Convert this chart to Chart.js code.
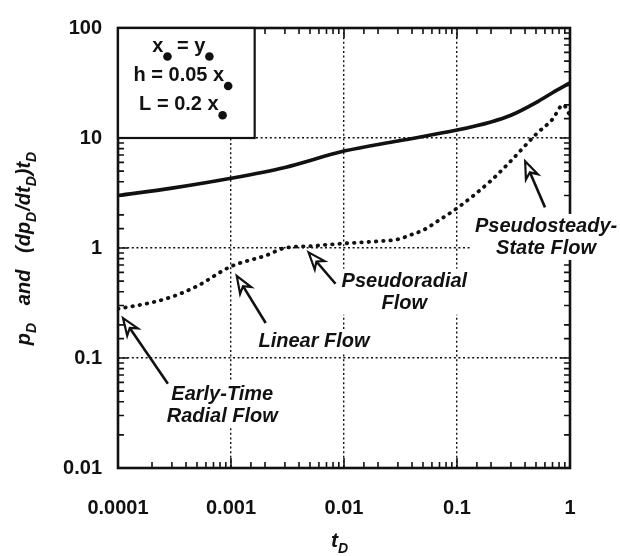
<!DOCTYPE html>
<html>
<head>
<meta charset="utf-8">
<script src="https://cdn.jsdelivr.net/npm/chart.js@4.4.1/dist/chart.umd.min.js"></script>
<style>
  html, body { margin: 0; padding: 0; background: #fff; }
</style>
</head>
<body>
<canvas id="chart" width="620" height="556"></canvas>
<script>
// p_D curve (solid)
const tdSolid = [0.0001, 0.0003, 0.001, 0.003, 0.01, 0.03, 0.1, 0.2, 0.3, 0.5, 0.7, 1];
const pD = [3.0, 3.5, 4.3, 5.4, 7.6, 9.4, 11.8, 14, 16.1, 21, 25.8, 31.7];

// derivative curve (dotted)
const tdDotted = [0.0001, 0.0002, 0.0003, 0.0005, 0.001, 0.002, 0.003, 0.005, 0.01, 0.02, 0.03, 0.04, 0.05, 0.07, 0.1, 0.2, 0.3, 0.5, 0.7, 0.87, 1];
const pDderiv = [0.28, 0.32, 0.36, 0.45, 0.68, 0.85, 1.0, 1.04, 1.1, 1.15, 1.2, 1.33, 1.45, 1.8, 2.3, 4.1, 6.2, 10.8, 14.8, 20, 16];

const xTickLabels = ['0.0001', '0.001', '0.01', '0.1', '1'];
const yTickLabels = ['0.01', '0.1', '1', '10', '100'];

// flow regime labels: text centre / first baseline, arrow tip and tail (data units)
const flowLabels = [
  { lines: ['Early-Time', 'Radial Flow'], at: [0.000837, 0.0416], tip: [0.0001107, 0.2307], tail: [0.0002764, 0.0583] },
  { lines: ['Linear Flow'], at: [0.00543, 0.1247], tip: [0.001124, 0.557], tail: [0.002028, 0.208] },
  { lines: ['Pseudoradial', 'Flow'], at: [0.0342, 0.445], tip: [0.00486, 0.912], tail: [0.00841, 0.473] },
  { lines: ['Pseudosteady-', 'State Flow'], at: [0.614, 1.40], tip: [0.401, 6.14], tail: [0.601, 2.34] }
];

// parameter box
const paramBox = { x: [0.0001, 0.00162], y: [10, 100] };
const paramRows = [
  { parts: ['x', {dot: 1}, ' = y', {dot: 1}], at: [0.000375, 61.1] },
  { parts: ['h = 0.05 x', {dot: 1}], at: [0.000375, 33.0] },
  { parts: ['L = 0.2 x', {dot: 1}], at: [0.000375, 17.9] }
];

const FONT = '"Liberation Sans", Arial, sans-serif';

function isPow10(v) {
  const l = Math.log10(v);
  return Math.abs(l - Math.round(l)) < 1e-6;
}

// draws text parts: strings, {sub:'D'} subscripts, {dot:1} subscript dots
function drawRich(ctx, parts, x, y, size, style) {
  const mainF = style + ' ' + size + 'px ' + FONT;
  const subF = style + ' ' + Math.round(size * 0.68) + 'px ' + FONT;
  const items = [];
  let w = 0;
  parts.forEach(p => {
    if (typeof p === 'string') {
      ctx.font = mainF;
      const m = ctx.measureText(p).width;
      items.push({ t: p, f: mainF, w: m, dy: 0 });
      w += m;
    } else if (p.sub) {
      ctx.font = subF;
      const m = ctx.measureText(p.sub).width + 1;
      items.push({ t: p.sub, f: subF, w: m, dy: size * 0.3 });
      w += m;
    } else if (p.dot) {
      items.push({ dot: true, w: 8 });
      w += 8;
    }
  });
  let cx = x - w / 2;
  ctx.textBaseline = 'alphabetic';
  ctx.textAlign = 'left';
  items.forEach(it => {
    if (it.dot) {
      ctx.beginPath();
      ctx.arc(cx + 4, y + 5, 4.3, 0, Math.PI * 2);
      ctx.fill();
    } else {
      ctx.font = it.f;
      ctx.fillText(it.t, cx, y + it.dy);
    }
    cx += it.w;
  });
  return w;
}

function arrow(ctx, x1, y1, x2, y2) {
  const ang = Math.atan2(y2 - y1, x2 - x1);
  const len = 17, half = 6.5;
  const bx = x2 - Math.cos(ang) * len, by = y2 - Math.sin(ang) * len;
  ctx.lineWidth = 2.6;
  ctx.beginPath();
  ctx.moveTo(x1, y1);
  ctx.lineTo(bx + Math.cos(ang) * 5, by + Math.sin(ang) * 5);
  ctx.stroke();
  ctx.lineWidth = 2.2;
  ctx.beginPath();
  ctx.moveTo(x2, y2);
  ctx.lineTo(bx - Math.sin(ang) * half, by + Math.cos(ang) * half);
  ctx.lineTo(bx + Math.cos(ang) * 5, by + Math.sin(ang) * 5);
  ctx.lineTo(bx + Math.sin(ang) * half, by - Math.cos(ang) * half);
  ctx.closePath();
  ctx.fillStyle = '#fff';
  ctx.fill();
  ctx.stroke();
}

const decor = {
  id: 'decor',
  afterDraw(chart) {
    const ctx = chart.ctx;
    const xs = chart.scales.x, ys = chart.scales.y;
    const { left, right, top, bottom } = chart.chartArea;
    ctx.save();
    ctx.strokeStyle = '#111';
    ctx.fillStyle = '#111';
    ctx.lineCap = 'butt';

    // inner tick marks on all four sides
    ctx.lineWidth = 1.6;
    ctx.beginPath();
    xs.ticks.forEach(t => {
      const p = xs.getPixelForValue(t.value);
      const len = isPow10(t.value) ? 10 : 6;
      ctx.moveTo(p, bottom); ctx.lineTo(p, bottom - len);
      ctx.moveTo(p, top); ctx.lineTo(p, top + len);
    });
    ys.ticks.forEach(t => {
      const p = ys.getPixelForValue(t.value);
      const len = isPow10(t.value) ? 10 : 6;
      ctx.moveTo(left, p); ctx.lineTo(left + len, p);
      ctx.moveTo(right, p); ctx.lineTo(right - len, p);
    });
    ctx.stroke();

    // frame
    ctx.lineWidth = 2.6;
    ctx.strokeRect(left, top, right - left, bottom - top);

    // parameter box
    const bx0 = xs.getPixelForValue(paramBox.x[0]), bx1 = xs.getPixelForValue(paramBox.x[1]);
    const by0 = ys.getPixelForValue(paramBox.y[1]), by1 = ys.getPixelForValue(paramBox.y[0]);
    ctx.fillStyle = '#fff';
    ctx.fillRect(bx0, by0, bx1 - bx0, by1 - by0);
    ctx.lineWidth = 2.2;
    ctx.strokeRect(bx0, by0, bx1 - bx0, by1 - by0);
    ctx.fillStyle = '#111';
    paramRows.forEach(r => {
      drawRich(ctx, r.parts, xs.getPixelForValue(r.at[0]), ys.getPixelForValue(r.at[1]), 20, 'bold');
    });

    // flow labels
    flowLabels.forEach(f => {
      const cx = xs.getPixelForValue(f.at[0]);
      const cy = ys.getPixelForValue(f.at[1]);
      ctx.font = 'italic bold 20px ' + FONT;
      const w = Math.max(...f.lines.map(s => ctx.measureText(s).width));
      ctx.fillStyle = '#fff';
      ctx.fillRect(cx - w / 2 - 3, cy - 18, w + 6, 22 * f.lines.length + 2);
      ctx.fillStyle = '#111';
      ctx.textAlign = 'center';
      ctx.textBaseline = 'alphabetic';
      f.lines.forEach((s, i) => ctx.fillText(s, cx, cy + i * 22));
      ctx.strokeStyle = '#111';
      arrow(ctx, xs.getPixelForValue(f.tail[0]), ys.getPixelForValue(f.tail[1]),
        xs.getPixelForValue(f.tip[0]), ys.getPixelForValue(f.tip[1]));
      ctx.fillStyle = '#111';
    });

    // axis titles
    drawRich(ctx, ['t', {sub: 'D'}], (left + right) / 2 - 4, 547, 21, 'italic bold');
    ctx.translate(30, (top + bottom) / 2);
    ctx.rotate(-Math.PI / 2);
    drawRich(ctx, ['p', {sub: 'D'}, '   and   (dp', {sub: 'D'}, '/dt', {sub: 'D'}, ')t', {sub: 'D'}], 0, 0, 20, 'italic bold');
    ctx.restore();
  }
};

function tickLabel(labels, offset) {
  return function (value) {
    if (!isPow10(value)) return '';
    return labels[Math.round(Math.log10(value)) + offset];
  };
}

const gridColor = c => (c.tick && isPow10(c.tick.value)) ? '#111' : 'rgba(0,0,0,0)';

new Chart(document.getElementById('chart'), {
  type: 'line',
  data: {
    datasets: [
      {
        data: tdSolid.map((t, i) => ({ x: t, y: pD[i] })),
        borderColor: '#111',
        borderWidth: 3.6,
        pointRadius: 0,
        cubicInterpolationMode: 'monotone'
      },
      {
        data: tdDotted.map((t, i) => ({ x: t, y: pDderiv[i] })),
        borderColor: '#111',
        borderWidth: 3.8,
        borderDash: [0.5, 6.8],
        borderCapStyle: 'round',
        pointRadius: 0,
        cubicInterpolationMode: 'monotone'
      }
    ]
  },
  options: {
    responsive: false,
    animation: false,
    devicePixelRatio: 1,
    layout: { padding: { top: 19, right: 50, left: 0, bottom: 0 } },
    plugins: { legend: { display: false }, tooltip: { enabled: false } },
    scales: {
      x: {
        type: 'logarithmic',
        min: 0.0001,
        max: 1,
        afterFit: s => { s.height = 88; },
        grid: { color: gridColor, lineWidth: 1.4, drawTicks: false },
        border: { display: false, dash: [2, 2.6] },
        ticks: {
          autoSkip: false,
          maxRotation: 0,
          padding: 28,
          color: '#111',
          font: { family: FONT, size: 20, weight: 'bold' },
          callback: tickLabel(xTickLabels, 4)
        }
      },
      y: {
        type: 'logarithmic',
        min: 0.01,
        max: 100,
        afterFit: s => { s.width = 118; },
        grid: { color: gridColor, lineWidth: 1.4, drawTicks: false },
        border: { display: false, dash: [2, 2.6] },
        ticks: {
          autoSkip: false,
          padding: 16,
          color: '#111',
          font: { family: FONT, size: 20, weight: 'bold' },
          callback: tickLabel(yTickLabels, 2)
        }
      }
    }
  },
  plugins: [decor]
});
</script>
</body>
</html>
